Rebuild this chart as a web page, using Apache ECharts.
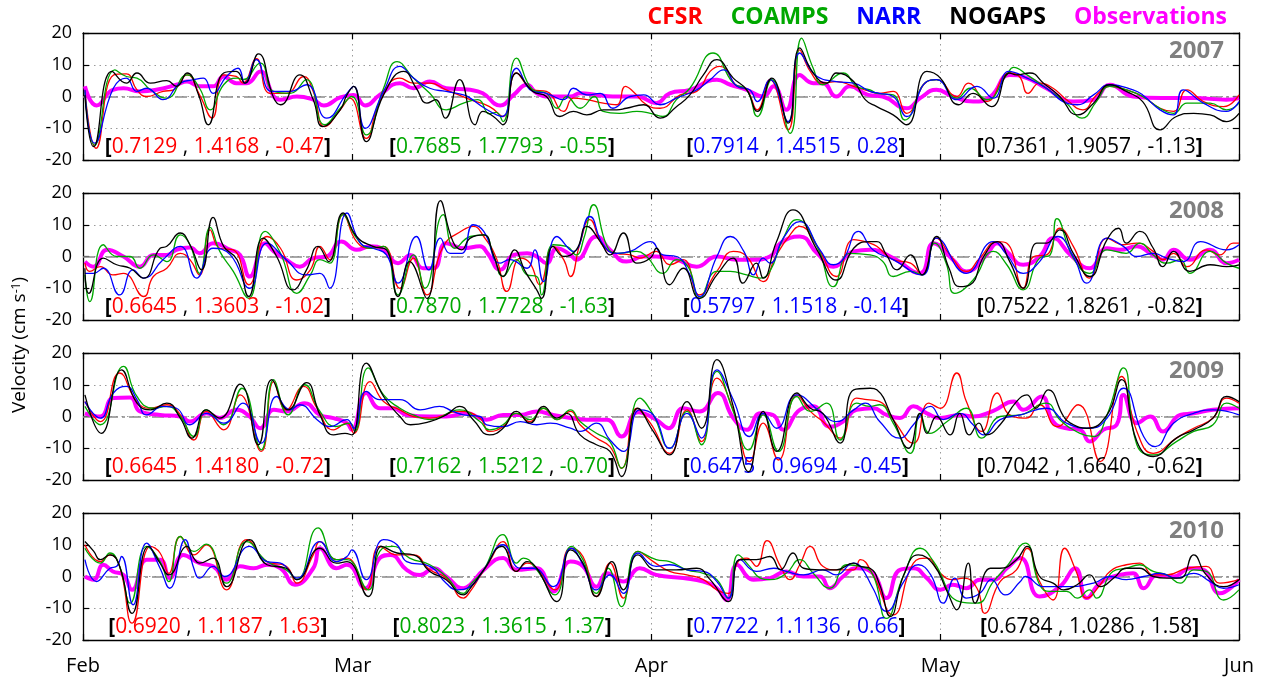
<!DOCTYPE html>
<html>
<head>
<meta charset="utf-8">
<script src="https://cdn.jsdelivr.net/npm/echarts@6/dist/echarts.min.js"></script>
<style>
  html, body { margin: 0; padding: 0; background: #fff; }
  #chart { width: 1266px; height: 682px; }
</style>
</head>
<body>
<div id="chart"></div>
<script>
// x values are days counted from 1 February; y values are velocities in cm/s
const monthTicks = [0, 28, 59, 89, 120];
const monthNames = ['Feb', 'Mar', 'Apr', 'May', 'Jun'];
const years = ['2007', '2008', '2009', '2010'];
const modelNames = ['CFSR', 'COAMPS', 'NARR', 'NOGAPS'];
const obsName = 'Observations';

// ---- 2007 ----
const obs2007 = [[0.2,3.2],[1.4,-2.8],[3.1,2.1],[4.2,2.6],[5.9,1.6],[7.6,2.1],[9.7,3.7],[10.8,4.7],[12.1,3.2],[13.5,3.2],[14.6,6.3],[15.9,4.2],[17,4.2],[18.4,7.9],[19.8,0],[20.5,-1],[22.2,0],[23.9,-1],[25,-2.8],[26.7,-0.3],[28.1,0.5],[29.3,-2.8],[30.8,0.5],[32.9,4.2],[34.3,2.6],[36,4.7],[37.7,2.6],[40.2,2.1],[41.5,1.0],[43.3,-2.8],[44.7,0.5],[46.1,3.7],[47.1,1.0],[48.5,0],[50.6,0],[51.6,1],[53.3,0.5],[55,0],[57.5,0],[59.5,-2.1],[60.9,1],[63,2.1],[65.8,5.3],[67.2,3.7],[68.9,2.1],[70.6,0],[71.7,3.2],[73,-4.2],[74.4,6.8],[75.8,4.2],[76.8,4.2],[78.2,0],[79.6,3.2],[81.5,0.5],[83,0],[85.5,-3.7],[86.9,-0.5],[88.6,2.1],[90.3,0],[92.4,-1.6],[94.2,0],[96.2,6.8],[98,5.8],[100,2.6],[102.8,-1.6],[104.9,-1],[106.6,3.7],[109,0],[112,-0.5],[115.3,-0.5],[118.7,-1],[120,-0.5]];
const cfsr2007 = [[0.2,2],[1.35,-16.3],[3.2,6.8],[4.5,7.1],[5.6,2.1],[6.6,0],[8.3,1.6],[9.4,2.1],[10.8,6.8],[12.1,0.5],[13.4,-6.8],[14.6,6.8],[15.9,6.3],[16.6,4.2],[18,11.9],[19.4,1],[21.1,1],[22.9,6.3],[23.9,1.6],[25.1,-9.5],[26.7,-4.2],[27.7,-0.5],[29.4,-13.2],[30.8,-1.6],[32.9,5.8],[34.3,4.2],[36,4.2],[37.7,2.1],[40.2,-1],[42.2,-3.2],[43.6,-6.3],[45,7.4],[46.7,2.1],[48.1,1.6],[49.9,-4.7],[50.9,-0.5],[52.3,-1],[54,-2.1],[55.4,-2.6],[56.3,3.2],[57.1,1.6],[58.5,-2.6],[59.9,-3.7],[62,0.5],[63.7,1.6],[65.1,7.9],[66.1,9.5],[67.9,3.2],[68.9,2.1],[70,-4.2],[71.3,5.3],[73.2,-10.5],[74.4,14.7],[75.5,7.9],[76.8,4.2],[78.2,4.7],[80,3.2],[81.7,1.6],[82.7,1.0],[84.1,1.6],[85.5,-5.3],[87.6,4.7],[88.6,5.3],[90.7,0],[91.9,4.2],[93.8,-1.6],[96.2,7.4],[97.2,6.3],[98.1,1],[99.3,4.2],[100.7,2.6],[102.1,-1],[103.8,-4.2],[105.2,0.5],[106.6,3.2],[108.3,2.1],[110,0],[111.8,-3.7],[113.2,-4.7],[114.6,2.1],[116.3,-1.6],[118.4,-3.2],[120,0.5]];
const coamps2007 = [[0.2,1.6],[1.2,-15.3],[3.3,8.4],[4.5,6.3],[5.6,5.8],[7,2.1],[8.7,-0.5],[10.8,6.8],[12.1,2.6],[13.2,-4.2],[14.6,3.7],[16,5.8],[16.6,5.3],[18.4,10.5],[19.8,1.6],[21.5,1],[23.2,5.3],[25.1,-8.9],[26.7,-3.7],[27.9,0],[29.4,-12.1],[31.2,2.6],[32.6,11],[34.3,5.8],[36,1],[37.7,-4.2],[39.5,-2.1],[41,-1],[42.2,-5.5],[42.9,-5],[43.6,-7.9],[45,12.1],[46.7,2.1],[48.1,1],[49.2,-3.7],[50.2,0],[51.6,-3.7],[53.1,0],[54,-4.7],[55.7,-5.3],[57.5,-4.7],[58.9,-5.3],[60.2,-6.3],[61.6,-1],[63,2.6],[65.4,13.7],[67.5,4.2],[68.9,2.1],[70,-6.3],[71.5,5.3],[73.4,-11.6],[74.6,18.4],[75.8,8.9],[76.8,3.7],[78.9,7.4],[80.3,3.2],[81.7,2.1],[82.4,1],[84.1,0.5],[85.3,-7.4],[87.6,4.7],[88.6,5.3],[90.7,-0.5],[92.1,2.6],[93.8,-1],[95.9,6.8],[96.6,9.2],[98,6.8],[100,2.6],[102.1,-2.1],[103.7,-6.8],[105.2,-1.6],[106.6,3.2],[108.3,2.1],[110,0],[111.8,-3.7],[113.2,-5.3],[114.6,-2.1],[117,-2.1],[118.7,-4.2],[120,-2.1]];
const narr2007 = [[0.2,2.1],[1.2,-14.7],[3.15,2.6],[4.5,5.8],[5.6,1.6],[6.6,2.6],[8.3,-1],[10.1,4.2],[11.5,5.3],[12.5,5.8],[13.5,1],[14.9,6.3],[16.1,8.9],[16.8,4.2],[18,11.6],[19.6,1.6],[21.5,1.6],[23.2,3.7],[25.3,-6.8],[27.4,1],[28.1,3.2],[29.3,-10],[31.2,1.6],[32.9,9.5],[34.3,5.8],[36,2.6],[37.7,1.6],[39.5,0.5],[40.2,-0.5],[41.7,-3.7],[43.5,-6.3],[45,8.9],[46.7,1.6],[48.1,1],[49.9,-1],[50.9,2.6],[52.3,0.5],[53.7,1],[55,-3.7],[56.8,0],[58.2,0.5],[59.9,-2.6],[61.6,-0.5],[63.7,2.1],[65.1,5.3],[66.5,8.4],[67.9,3.2],[69.2,2.1],[70,-1.6],[71.3,5.3],[73.2,-7.9],[74.4,13.7],[76.2,6.3],[78.2,4.7],[80,4.2],[81.7,1.6],[82.7,1],[84.1,0],[85.5,-6.3],[87.6,4.7],[88.6,5.3],[90.7,-1],[92.8,3.2],[94.5,-0.5],[96.1,7.9],[98,5.8],[100,2.6],[102.1,-2.1],[103.2,-2.6],[104.9,0.5],[106.6,3.7],[109,2.1],[110,0.5],[111.8,-4.2],[113.2,-5.8],[114.2,2.1],[116.3,-2.1],[118.7,-4.7],[120,-1.6]];
const nogaps2007 = [[0.2,0.5],[1.1,-15.8],[3,7.9],[4.5,4.2],[5.6,7.4],[7,4.2],[8.7,5],[9.7,3.2],[10.8,7.4],[12,0.5],[13,-8.9],[14.6,7.4],[15.9,7.9],[16.8,4.2],[18.2,13.4],[19.8,-0.5],[20.5,-2.6],[22.5,6.8],[23.9,-1],[24.9,-9.5],[26.7,-4.2],[27.4,0.5],[28.1,3.2],[29.4,-14.2],[31.2,0.5],[33.3,7.9],[34.6,2.6],[35.7,-2.1],[36.6,-1],[37.6,-6.8],[39.1,5.3],[40.7,-8.9],[41.5,-4.7],[42.6,-6.3],[43.6,-8.9],[45,7.4],[46.7,1.6],[48.1,0],[49.5,-6.3],[50.9,-4.7],[52.3,-5.8],[54,-4.2],[55.4,-4.2],[56.4,-3.7],[58.2,-2.6],[59.9,-6.8],[61.6,-3.2],[63,0.5],[64.4,6.8],[65.8,11.6],[67.5,5.8],[68.9,2.1],[70,-4.7],[71.5,5.8],[73.2,-8.4],[74.4,15.3],[75.8,7.4],[77.2,4.2],[78.2,7.4],[80,4.7],[81.2,-1],[82.4,-3.2],[84.1,-5.8],[85.5,-8.9],[87.6,7.9],[89,5.8],[90.9,-2.6],[92.4,1],[94.3,-3.2],[96.2,7.4],[96.9,6.8],[98.3,7.4],[99.7,4.2],[101.4,0],[103.2,-5.8],[104.9,-2.1],[106.6,3.7],[108.3,1.6],[110,-1.6],[111.8,-10.5],[113.5,-6.3],[115.3,-5.3],[117,-5.8],[118.7,-7.9],[120,-5.3]];
const stats2007 = [['0.7129','1.4168','-0.47'],['0.7685','1.7793','-0.55'],['0.7914','1.4515','0.28'],['0.7361','1.9057','-1.13']];

// ---- 2008 ----
const obs2008 = [[0.2,-1.6],[1.1,-3.2],[2.5,2.1],[4.2,0],[5.9,-3.2],[7.3,0.5],[8.7,0.5],[9.7,2.1],[11.1,2.8],[12.1,1],[13.5,4.2],[15.3,2.1],[16.3,0.5],[17.3,-6.3],[18.9,4.2],[19.8,1.6],[21.1,-1],[22.5,-3.2],[23.9,-0.5],[25.3,0],[26.8,4.7],[28.4,2.1],[29.8,3.2],[31.2,2.1],[32.7,-2.1],[34,0.5],[35.3,-3.7],[36.4,-3.7],[37.7,4.2],[39.5,2.6],[41.2,3.2],[42,1],[43.3,-4.2],[44.7,0.5],[46.1,1],[47.1,0],[48.1,-2.1],[49.2,2.6],[50.6,0.5],[51.2,-1],[53.3,6.3],[54.7,2.1],[56.4,-1.6],[58.2,0],[59.5,0],[61.6,-1],[63.7,-3.2],[65.8,0],[67.9,-1],[69.6,-1],[71.3,0],[72.4,4.2],[74.4,6.3],[76.2,1],[77.9,-3.2],[80,1.6],[81.7,2.1],[84.1,-0.5],[86.9,-5.3],[88.3,4.2],[90.3,-1],[91.7,-4.7],[93.8,0.5],[94.9,4.2],[95.9,1.6],[97.6,-2.6],[99.3,0],[100.7,5.8],[102.5,0.5],[104.5,-3.7],[106.3,2.6],[107.6,2.1],[109.4,3.2],[110.8,1],[112.1,-1],[113.2,2.1],[114.9,-1],[117,2.1],[118.7,-2.1],[120,-1]];
const cfsr2008 = [[0.2,-2.1],[0.7,-4.7],[1.8,-3.2],[3.1,-5.8],[4.2,-5.3],[6.3,-12.6],[7.3,-6.3],[8.7,-3.7],[10.1,1],[11.1,-1],[12.1,-5.8],[13.2,8.4],[14.2,2.6],[15.6,2.1],[17.2,-8.9],[19.1,6.3],[20.5,2.6],[22.2,-7.4],[23.6,-4.2],[24.6,3.2],[25.6,-1],[27,13.2],[28.4,4.7],[29.8,2.6],[31.2,3.2],[32.9,-10],[34.3,-0.5],[35.7,-12.1],[37.4,3.2],[39.5,8.4],[40.5,9.5],[41.6,6.3],[42.9,-0.5],[44,-11],[45.4,-0.5],[46.4,-2.1],[47.4,-8.9],[48.8,3.2],[49.9,-1],[50.6,-6.3],[51.6,4.2],[52.6,11.6],[54,3.2],[55.4,1],[56.8,0.5],[57.8,-0.5],[59.5,1.6],[60.9,-2.6],[62.3,-1],[64,-12.1],[65.8,-4.7],[67.5,1.6],[68.9,0],[70.6,-7.9],[71.9,0],[73.4,6.8],[74.4,9.5],[76.2,3.2],[78.2,-6.3],[80,5.3],[81.7,4.2],[82.4,3.2],[84.1,-1],[85.9,-2.1],[87.1,-5.8],[88.6,5.8],[90,0.5],[91.7,-4.7],[93.1,-0.5],[94.9,4.7],[95.9,4.2],[97.6,-10],[98.7,0],[100,0.5],[101.4,8.9],[102.8,3.2],[104.5,-6.8],[106.3,5.8],[108,3.7],[109.4,4.2],[111.1,1.6],[112.1,-1],[113.2,1],[114.6,-3.2],[116.6,2.1],[118,0.5],[119.4,4.2],[120,4.2]];
const coamps2008 = [[0.2,-5.8],[0.7,-14.2],[2.1,3.7],[3.5,0],[4.9,0],[5.9,-3.7],[7.3,0.5],[8.7,-1.6],[10.1,6.8],[11.1,3.7],[12.1,-5.3],[13.2,9.2],[14.2,1.6],[15.6,-4.7],[17.2,-13.2],[18.9,7.9],[20.5,1],[22.2,-11.6],[23.6,-5.8],[24.6,-1],[25.6,-2.1],[27,13.2],[28.4,5.8],[29.8,2.6],[31.2,3.2],[32.7,-12.1],[34.3,0.5],[35.5,-10],[37.4,13.2],[38.6,2.6],[40.2,6.3],[41.6,6.8],[42.6,0.5],[43.6,-6.3],[45,-1],[46.1,-5.8],[47.1,-6.3],[47.6,-12.1],[48.8,3.7],[50.2,3.2],[51.2,0.5],[52,5.8],[53,16.3],[54.4,3.2],[55.4,1],[57.5,1.6],[58.5,0],[60.2,-5.3],[61.6,-1],[62.9,-3.7],[64,-13.2],[65.8,-4.7],[67.2,-4.7],[68.9,-5.8],[70.3,-6.8],[71.3,-4.7],[72.7,5.8],[74.1,11.6],[76.2,3.2],[77.9,-9.5],[79.6,1],[81.7,0.5],[83,-1.5],[84.1,-6.3],[85.9,-4.7],[87.1,-5.8],[88.4,4.2],[89.6,-2.1],[90.5,-11.6],[92.4,-7.4],[94.5,1.6],[95.9,-2.6],[97.6,-10.5],[99.3,-0.5],[100.4,0.5],[101.1,11.9],[102.8,-0.5],[104.5,-5.3],[106.3,2.1],[108.3,1],[109.7,4.2],[111.1,0.5],[112.5,-2.1],[113.9,-1],[114.9,-5.3],[117,1.6],[118.7,-2.1],[120,-3.7]];
const narr2008 = [[0.2,-5.3],[1.1,-5.3],[2.1,-3.7],[3.8,-12.1],[5.2,-4.2],[6.3,-6.8],[8.3,-1],[10.1,3.2],[11.8,-6.8],[13.5,2.6],[15.3,0.5],[17.3,-10],[19.1,4.2],[21.1,-1],[23.2,-5.8],[24.6,-5.3],[25.6,-10],[27.4,13.7],[28.8,4.2],[30.1,2.6],[31.5,0.5],[32.7,-8.4],[34.6,6.3],[35.9,-4.2],[37.1,5.8],[38.1,1],[39.3,1],[40.5,10],[41.6,7.9],[43.3,-2.1],[44.3,-1],[46.1,-3.7],[46.9,2.1],[47.8,-7.9],[49.2,6.3],[50.9,1.6],[52.6,12.6],[54,3.7],[55.4,1],[56.8,1.6],[58.9,4.7],[60.2,0.5],[61.6,0],[63,-5.8],[64,-12.6],[65.8,0],[67.2,6.3],[68.6,1.6],[69.6,-5.8],[70.6,-0.5],[71.3,-2.1],[72.7,5.8],[74.4,11],[76.5,2.1],[77.9,-2.6],[78.9,-1],[80.5,7.9],[82,2.1],[84.1,-1],[87.1,-5.8],[88.6,5.8],[91.7,-5.3],[94.5,4.7],[95.9,0.5],[97.6,-5.3],[99.3,-1.6],[101.2,6.3],[102.8,0],[104.2,-8.4],[106.3,5.8],[108,3.2],[109.4,0],[111.1,1],[112.5,-0.5],[114.2,-1.6],[116,4.7],[118.7,2.1],[120,3.7]];
const nogaps2008 = [[0.2,-3.7],[0.6,-11.6],[2.1,-0.5],[3.5,-2.6],[4.9,-3.7],[6.3,-6.8],[8,2.6],[8.7,3.2],[10.1,7.4],[11.1,3.7],[12.3,-4.2],[13.5,12.3],[14.6,3.2],[16,-1],[17.2,-12.6],[18.7,5.8],[20.1,0],[21.8,-10.5],[23.2,-4.2],[24.4,3.2],[25.5,-1.6],[27,13.7],[28.4,6.3],[30.1,3.2],[31.5,2.1],[32.7,-12.6],[33.9,-1.6],[35.7,-13.2],[37.1,17.6],[38.4,4.7],[39.3,2.1],[40.2,5.8],[41.6,6.8],[42.6,0.5],[43.6,-6.3],[44.8,2.1],[45.9,-4.7],[47.1,-10.5],[47.6,-13.2],[48.8,3.2],[49.9,0],[51.2,2.1],[52.3,9.5],[53.7,4.7],[54.7,0.5],[56.1,7.4],[57.5,-2.1],[58.9,-0.5],[59.5,2.6],[60.9,-8.9],[62.3,-3.7],[64,-13.2],[65.8,-5.8],[67.5,-0.5],[68.5,-8.4],[69.9,-2.1],[70.6,-6.8],[72,4.7],[73.7,14.7],[76.2,2.1],[78.2,-7.4],[80,2.6],[81.7,4.7],[82.4,4.7],[83.4,0.5],[84.5,-4.2],[85.9,0.5],[87.1,-5.8],[88.6,6.3],[89.9,-3.7],[91,-9.5],[92.1,-8.9],[93.5,0],[94.9,4.7],[96.2,-1.6],[97.6,-10],[99,4.2],[100,4.2],[101.4,8.4],[102.8,1],[104.5,-6.3],[106.3,5.3],[107.5,8.9],[108.3,4.2],[109.7,7.9],[111.1,2.6],[112.1,-3.2],[113.2,1.6],[114.9,-4.7],[117,-2.6],[118.7,-3.2],[120,-2.6]];
const stats2008 = [['0.6645','1.3603','-1.02'],['0.7870','1.7728','-1.63'],['0.5797','1.1518','-0.14'],['0.7522','1.8261','-0.82']];

// ---- 2009 ----
const obs2009 = [[0.2,1],[1.8,0],[3.15,5.8],[4.9,6],[5.9,1.6],[8,0.5],[10.1,0],[11.1,-1.6],[12.8,1],[14.2,-0.5],[15.9,2.1],[17.3,0],[18.4,-3.7],[19.8,2.1],[21.1,1.6],[23,4.2],[24.6,0.5],[26,-0.5],[27.4,-2.1],[27.9,-4.2],[29.4,7.4],[30.8,2.6],[32.2,2.6],[33.6,0.5],[36,0],[37.7,0],[39.8,1],[41.2,-0.5],[41.9,-1],[43.6,0.5],[45.4,0.5],[47.1,1.6],[48.8,0.5],[50.6,-0.5],[52.3,-1],[54.4,-1],[55.9,-6.3],[57.6,1.3],[59.5,-1],[60.8,-3.7],[62.3,2.6],[64,1.6],[65.9,7.4],[67.5,-0.5],[68.9,-4.2],[70.3,1],[71.6,0.5],[72.7,-4.2],[74.4,2.1],[75.8,3.2],[77.5,-3.2],[78.9,-1.6],[80.3,2.1],[82,2.6],[83.4,0.5],[84.8,-0.5],[86.2,3.2],[87.6,1],[89,-0.5],[91,0.5],[92.4,0],[94.5,1.8],[96.6,4.7],[97.6,2.1],[99.5,6.3],[100.7,-1.6],[102.1,-3.7],[103.5,-4.2],[104.5,-7.9],[105.9,-4.2],[107.3,-2.6],[108,6.8],[109.4,-2.1],[110.8,0],[112.1,-4.7],[113.9,0.5],[115.3,1],[117.3,2.1],[120,2.6]];
const cfsr2009 = [[0.2,4.7],[1.8,-1.6],[3.8,13.7],[5.6,4.7],[7,2.6],[8.7,3.7],[10.1,0.5],[11.5,-7.4],[12.8,1.6],[14.6,-4.2],[16.3,6.8],[18.5,-11],[19.8,11],[21.1,2.1],[22.9,9.5],[24.3,2.6],[26,-4.2],[27.4,-2.1],[28.1,-5.3],[29.8,11],[31.2,4.7],[32.9,2.1],[34.3,0],[36,-0.5],[39.1,1.6],[41.2,-0.5],[42.2,-4.7],[43.6,-3.2],[45,1],[46.4,-1.6],[47.8,2.6],[49.2,-1],[50.6,1.6],[51.6,-2.6],[53.3,-6.8],[54.7,-9.5],[55.9,-16.3],[57.5,2.6],[58.9,-2.1],[60.9,-11.6],[62.7,2.1],[64.2,-7.9],[65.8,12.1],[67.5,2.1],[69.2,-14.2],[70.6,-2.1],[72.2,-13.7],[74.1,6.8],[75.5,1.6],[76.8,-1.6],[78.6,-6.8],[80.3,5.8],[81.4,5.3],[82.7,4.7],[84.1,-1],[86.2,-8.4],[87.8,4.2],[89,2.6],[90.7,13.7],[91.7,4.7],[93.3,-4.7],[94.9,7.4],[96.2,0.5],[97.9,-0.5],[99.3,3.7],[101.1,-3.2],[103.3,3.7],[105.6,-14.2],[107.8,12.6],[109.4,-4.7],[111.1,-11.6],[113.5,-6.8],[115.3,-3.7],[117.3,-0.5],[118.7,5.8],[120,4.2]];
const coamps2009 = [[0.2,3.2],[1.8,-2.6],[4.2,15.8],[5.6,6.3],[7.3,2.6],[8.7,3.2],[10.1,0],[11.5,-6.3],[12.8,2.1],[14.6,-2.6],[16.5,8.9],[18.5,-10.5],[19.8,11.6],[21.3,0.5],[23,10],[24.6,1.6],[26.2,-3.2],[27.7,-2.1],[28.2,-4.7],[29.6,15.3],[31.2,6.8],[32.9,2.6],[34.3,0.5],[36,-1],[39.1,2.1],[41.2,-1.6],[42.2,-4.2],[43.6,-2.6],[45,1],[46.4,-1],[47.8,2.6],[49.2,-1],[50.6,2.1],[51.6,-1.6],[53.3,-5.3],[54.7,-7.9],[55.9,-16.3],[57.8,5.8],[59.2,0.5],[60.9,-10],[62.7,1.6],[64.2,-8.9],[65.8,14.2],[67.5,1.6],[69.1,-10.5],[70.6,0.5],[72.2,-11],[74.1,6.3],[75.5,1.6],[77.2,4.2],[78.6,-7.4],[80.3,4.2],[81.7,3.2],[82.7,3.7],[84.1,-2.1],[85.9,-11.6],[86.9,1],[87.9,-5.3],[89.7,-1.6],[91.7,2.6],[93.3,-6.8],[95.2,0],[97.3,0.5],[100,4.2],[101.4,-1],[103.5,-5.3],[104.9,-6.3],[106.3,0.5],[108,15.3],[109.4,-8.9],[111.1,-12.1],[113.5,-7.9],[115.3,-4.7],[117.3,-2.6],[118.7,4.2],[120,2.6]];
const narr2009 = [[0.2,4.7],[1.8,-0.5],[3.15,7.4],[4.5,9.5],[5.6,5.3],[6.6,0.5],[8.3,3.2],[9.7,2.6],[11.1,-2.6],[12.8,1],[14.6,-2.1],[16.6,4.2],[18.5,-8.4],[20.1,6.3],[21.5,2.1],[22.5,3.7],[24.3,-1],[25.6,-3.2],[27.4,-1],[28.1,-3.7],[29.4,7.9],[30.8,5.3],[32.9,5.3],[35,2.1],[37,3.2],[38.4,1.6],[39.5,0.5],[41.2,0],[41.9,-2.6],[43.6,-3.2],[45.4,-1.6],[47.1,-2.6],[48.5,-2.1],[50.6,-3.7],[51.6,-4.7],[53.3,-2.1],[54.7,-7.4],[56.1,-11],[57.8,2.1],[59.2,0.5],[60.9,-10],[62.7,1],[64.2,-6.8],[65.8,14.7],[67.5,5.3],[69.2,-6.3],[70.6,1],[72,-3.7],[74.1,6.8],[76.5,1.6],[78.2,-1.6],[80,2.1],[81.2,4.2],[82.7,-1.6],[84.8,-6.8],[86.2,-2.6],[88,3.2],[89.3,-1],[91,1],[92.4,-2.6],[93.5,-5.8],[95.2,-1],[97.3,0.5],[100,2.6],[102.1,-2.1],[104.5,-3.7],[106.3,-0.5],[108,8.9],[110.1,-6.3],[111.3,-9.5],[113.2,-2.1],[115.3,1],[117.3,2.1],[120,0.5]];
const nogaps2009 = [[0.2,6.8],[1.9,-5.3],[4,14.7],[5.6,4.2],[7,2.1],[8.7,4.2],[10.1,-0.5],[11.3,-6.8],[12.8,2.1],[14.2,-0.5],[16.3,10.2],[18.2,-8.9],[19.6,11.6],[21.3,2.1],[23.2,10.7],[24.6,0.5],[26,-5.8],[27.2,-5.3],[27.9,-5.8],[29.4,16.8],[31.2,6.3],[32.9,0],[34,-2.6],[36,-1.6],[37.7,0.5],[39.1,3.2],[40.5,-1],[42.2,-5.8],[43.6,-3.7],[45,1.6],[46.4,-2.1],[47.8,3.2],[49.2,-0.5],[50.2,1],[51.6,-5.8],[53.3,-8.9],[54.7,-11],[55.9,-18.9],[57.6,2.6],[59.2,-4.7],[60.9,-12.1],[62.7,4.7],[64.2,-3.7],[65.8,17.9],[67.5,3.2],[69.1,-17.4],[70.6,1.6],[72,-11],[74.1,7.4],[75.5,2.6],[76.8,1],[78.6,-8.4],[80,8.4],[81.7,8.9],[82.4,8.4],[84.1,-1],[85.7,-10],[86.9,1],[87.6,-5.3],[88.6,0],[90,-5.8],[91,1],[92,-5.8],[93,-2.1],[93.8,-5.8],[95.2,-2.6],[96.9,4.7],[98,6.8],[98.9,2.6],[100.2,8.4],[101.8,0],[102.5,-2.1],[104.2,-3.7],[106.3,0.5],[107.8,11.6],[109.4,-7.9],[111.1,-12.6],[113.5,-6.8],[115.3,-4.2],[117.3,-0.5],[118.7,6.3],[120,4.7]];
const stats2009 = [['0.6645','1.4180','-0.72'],['0.7162','1.5212','-0.70'],['0.6475','0.9694','-0.45'],['0.7042','1.6640','-0.62']];

// ---- 2010 ----
const obs2010 = [[0.2,0],[1.1,-1],[2.1,3.7],[3.1,1.6],[4.2,0.5],[5.1,-4.2],[6.6,5.3],[8,5.3],[9,-0.5],[10.4,6.8],[12.1,4.2],[13.5,3.2],[14.9,-1],[16.3,3.2],[17.7,2.6],[19.1,3.7],[20.5,2.6],[22,-2.6],[23.9,2.6],[24.6,8.9],[26.3,2.6],[27.4,3.7],[29.3,-3.7],[30.8,5.8],[31.9,6.8],[33.6,2.1],[35,0.5],[36.4,2.6],[37.7,0],[39.5,-3.7],[40.2,-2.6],[41.6,2.1],[43.6,5.8],[45,2.1],[47.1,2.6],[48.8,-4.7],[50.6,4.7],[51.9,3.2],[53.3,-3.2],[54.4,1],[56.1,-1.6],[57.8,2.6],[59.5,0.5],[62.3,-0.5],[64.4,-1.6],[65.8,-3.7],[66.8,-7.4],[67.9,3.7],[69.6,-1],[71.3,-0.5],[73,1.6],[74.8,0],[76.5,0],[77.5,-3.7],[78.9,0],[80.3,2.6],[82,1],[83.4,-6.8],[84.8,2.1],[86.2,2.6],[87.6,-0.5],[89,-4.2],[90.3,-2.6],[91.7,-3.7],[93.1,-1],[94.5,-1],[95.9,2.6],[97.3,5.8],[99.3,-6.3],[101.4,-3.2],[103,2.6],[104.2,-6.8],[105.6,-2.1],[107.6,0.5],[109,1],[110.1,-3.7],[111.5,0.5],[113.2,0],[114.9,2.6],[116.3,2.1],[118,-5.3],[120,-1]];
const cfsr2010 = [[0.2,10],[1.8,4.7],[2.8,6.8],[3.8,3.2],[5.1,-14.7],[7,9.5],[8,7.4],[8.9,1],[10.1,12.6],[11.5,6.8],[12.8,10],[14.9,-4.2],[17,11.6],[19.1,4.7],[21.1,3.2],[22.2,-2.1],[23.9,6.8],[24.6,11],[26.3,5.3],[27.4,5.8],[29.4,-4.2],[30.8,9.5],[32.6,6.8],[34.3,6.8],[36,2.1],[37.7,-0.5],[39.5,-6.8],[40.2,-4.7],[41.2,0],[42.2,4.7],[43.6,11],[45,1.6],[46.1,4.2],[47.1,2.6],[49,-4.2],[50.6,8.9],[51.9,6.3],[53.3,-6.3],[54.7,4.2],[56.1,-6.8],[57.6,7.9],[59.2,4.7],[60.9,1.6],[62.7,0.5],[64.4,-1],[65.8,-4.2],[67,-5.3],[67.9,4.2],[68.9,5.8],[69.9,3.2],[71,11.3],[72.4,3.2],[73.4,-1],[74.4,3.7],[75.5,9.5],[76.8,3.2],[78.2,2.1],[80,2.1],[80.7,5.3],[82,0.5],[84.1,-12.1],[86.2,4.2],[87.6,5.8],[89,1],[90.3,-1],[91.4,-0.5],[92.8,-3.7],[93.6,-11.6],[95.2,-1.6],[96.9,2.1],[98,8.9],[99.3,-1.6],[100.7,-7.4],[101.9,8.9],[103.1,1.6],[104.2,-6.8],[105.6,-2.6],[106.6,1.6],[108.3,3.7],[109.7,4.2],[111.1,0.5],[112.5,0.5],[114.6,2.6],[116.6,3.2],[118,-2.1],[120,-1]];
const coamps2010 = [[0.2,8.9],[1.8,4.2],[2.8,7.4],[3.8,3.2],[4.9,-8.4],[6.6,9.5],[8,4.7],[8.9,-1.6],[10.1,12.6],[11.5,7.9],[12.8,10.2],[14.9,-2.1],[17,11],[19.1,4.7],[21.1,2.1],[22.2,-1],[24.4,15.3],[26.3,5.3],[27.4,5.3],[29.6,-4.2],[30.8,7.9],[32.2,9.5],[33.9,5.8],[36,3.7],[37.7,0],[39.5,-5.3],[40.2,-2.6],[41.6,2.1],[43.6,13.2],[45,4.2],[45.7,5.8],[47.1,2.1],[49,-5.8],[50.7,9.5],[51.9,5.3],[53.3,-5.3],[54.5,2.6],[55.9,-9.5],[57.6,7.9],[59.5,5.3],[60.9,4.7],[62.7,2.1],[64.4,1],[65.8,-1],[67,-6.8],[68,6.8],[69.2,3.2],[70.3,-0.5],[71.3,-1],[73,1],[74.4,5.3],[75.8,1],[77.5,-3.7],[79.3,3.7],[80.7,3.2],[82,0.5],[83.4,-13.2],[85.2,0.5],[86.9,8.9],[88.3,4.7],[91,-7.9],[92.8,-8.4],[94.5,-1.6],[95.9,3.2],[97.8,10.5],[99.3,-2.6],[100.4,-4.7],[102.1,-4.7],[103.2,-6.8],[104.5,-4.2],[105.2,-6.8],[106.9,1.6],[108.3,2.6],[109.7,3.7],[111.1,1.6],[112.5,0.5],[113.9,-2.1],[115.3,2.1],[116.6,1.6],[118.4,-7.4],[120,-4.2]];
const narr2010 = [[0.2,5.3],[1.4,-1.6],[2.8,2.6],[3.5,3.2],[4,6.3],[5.2,-8.9],[6.6,10.5],[8,2.6],[9,-3.7],[10.6,11.6],[11.5,2.6],[12.1,-0.5],[13.5,3.2],[14.7,0],[17.3,9.5],[19.1,4.7],[20.5,4.2],[22.2,-0.5],[24.6,11],[26.3,4.7],[27.4,6.3],[27.9,8.4],[29.4,-1],[31.2,11.6],[32.6,10],[33.6,4.7],[36,3.2],[37.7,-2.1],[38.8,-4.2],[40.2,-3.2],[41.6,2.1],[43.6,10],[45.4,2.6],[46.8,2.6],[48.8,-3.2],[50.7,8.9],[51.9,3.7],[53.3,-4.2],[54.7,0.5],[56.1,-5.3],[57.6,7.4],[59.5,3.2],[60.9,3.7],[62.7,2.1],[64.4,1.6],[65.8,-1.6],[67,-6.8],[68.2,5.3],[69.9,1.6],[71.7,2.6],[73,1.6],[74.8,0.5],[76.8,2.1],[78.2,0.5],[80,4.2],[80.7,3.2],[82,-3.7],[83.4,-11],[85.2,-1.6],[86.7,3.7],[88,0.5],[89.3,-8.4],[90.5,-0.5],[91.7,-6.8],[93.1,-5.3],[94.3,-1],[95.7,-5.8],[97.3,-1.6],[97.8,0],[99.7,-3.2],[102.1,-3.2],[104.9,-2.1],[106.6,0],[108.3,-1],[110.1,0],[111.8,1],[113.5,-0.5],[115.3,1],[117,-1.6],[118.4,-3.7],[120,-2.6]];
const nogaps2010 = [[0.2,11],[1.1,8],[1.8,5.3],[2.8,6.8],[3.8,3.2],[5.1,-11.6],[6.8,9.5],[8,4.2],[8.9,0.5],[10.8,9.5],[11.5,5.8],[12.1,4.2],[13.5,5.8],[14.9,-3.2],[17.3,11.6],[19.1,3.7],[21.1,2.6],[22.2,-1],[24.6,8.9],[26.3,4.2],[27.4,4.7],[29.6,-6.3],[31,9.5],[32.6,7.4],[34.3,6.8],[36,1.6],[37.7,-1],[39.5,-5.8],[40.2,-3.7],[41.6,2.1],[43.5,9.5],[45,1.6],[46.1,4.7],[47.1,2.6],[49.2,-7.9],[50.6,8.4],[51.9,4.2],[53.3,-6.3],[54.9,4.7],[56.1,-4.2],[57.6,6.8],[59.5,2.1],[61.6,2.1],[63.7,2.6],[65.1,-1],[67,-7.9],[68.2,5.3],[69.9,5.3],[71.3,6.3],[72.4,2.1],[73.7,7.4],[74.8,2.6],[76.5,2.1],[78.2,2.1],[80,4.2],[80.7,3.2],[81.7,2.6],[82.7,-2.6],[83.8,-12.6],[85.2,0.5],[86.7,6.8],[88.3,3.7],[89.7,-4.7],[90.7,-10.5],[91.9,4.2],[92.6,-8.4],[94.2,2.6],[95.2,2.6],[96.9,5.3],[98,9.5],[99.3,0],[100.7,-2.1],[101.8,-4.2],[103.2,-2.6],[104.5,0.5],[105.6,-3.2],[107,-0.5],[108.3,2.6],[109.7,2.6],[111.1,0],[112.5,-0.5],[113.9,-0.5],[115.3,6.8],[116.6,0.5],[118.4,-3.2],[120,-1]];
const stats2010 = [['0.6920','1.1187','1.63'],['0.8023','1.3615','1.37'],['0.7722','1.1136','0.66'],['0.6784','1.0286','1.58']];

// ---- assembly ----
const obsByYear = [obs2007, obs2008, obs2009, obs2010];
const modelsByYear = [
  [cfsr2007, coamps2007, narr2007, nogaps2007],
  [cfsr2008, coamps2008, narr2008, nogaps2008],
  [cfsr2009, coamps2009, narr2009, nogaps2009],
  [cfsr2010, coamps2010, narr2010, nogaps2010]
];
const statsByYear = [stats2007, stats2008, stats2009, stats2010];

const modelColors = ['#ff0000', '#00a800', '#0000ff', '#000000'];
const obsColor = '#ff00ff';
const FONT = '"Open Sans", "Liberation Sans", sans-serif';

const gridTops = [33, 193, 353, 513];
const gridH = 127;

// stat labels sit at the middle of each month
const monthMids = monthTicks.slice(0, 4).map((t, k) => (t + monthTicks[k + 1]) / 2);

const grids = [], xAxes = [], yAxes = [], series = [];

gridTops.forEach((top, i) => {
  grids.push({ left: 83, right: 27, top: top, height: gridH, containLabel: false });

  const tickStyle = { color: '#000', width: 1.2 };
  xAxes.push({
    gridIndex: i, type: 'value', min: 0, max: 120, position: 'bottom',
    axisLine: { onZero: false, lineStyle: { color: '#000', width: 1.3 } },
    axisTick: { inside: true, length: 6, customValues: monthTicks, lineStyle: tickStyle },
    axisLabel: {
      show: i === 3, customValues: monthTicks, margin: 16,
      fontSize: 20, color: '#000', fontFamily: FONT,
      formatter: v => monthNames[monthTicks.indexOf(v)] || ''
    },
    splitLine: { show: true, lineStyle: { type: [1.5, 4], color: '#9a9a9a', width: 1 } }
  });
  xAxes.push({
    gridIndex: i, type: 'value', min: 0, max: 120, position: 'top',
    axisLine: { onZero: false, lineStyle: { color: '#000', width: 1.3 } },
    axisTick: { inside: true, length: 6, customValues: monthTicks, lineStyle: tickStyle },
    axisLabel: { show: false },
    splitLine: { show: false }
  });
  yAxes.push({
    gridIndex: i, type: 'value', min: -20, max: 20, interval: 10, position: 'left',
    axisLine: { onZero: false, lineStyle: { color: '#000', width: 1.3 } },
    axisTick: { inside: true, length: 6, lineStyle: tickStyle },
    axisLabel: { fontSize: 18, color: '#000', margin: 11, fontFamily: FONT },
    splitLine: { show: true, lineStyle: { type: [1.5, 4], color: '#9a9a9a', width: 1 } }
  });
  yAxes.push({
    gridIndex: i, type: 'value', min: -20, max: 20, interval: 10, position: 'right',
    axisLine: { onZero: false, lineStyle: { color: '#000', width: 1.3 } },
    axisTick: { inside: true, length: 6, lineStyle: tickStyle },
    axisLabel: { show: false },
    splitLine: { show: false }
  });

  const xIdx = 2 * i, yIdx = 2 * i;

  // observations, thick magenta, with the dash-dot zero reference line
  series.push({
    name: obsName, type: 'line', xAxisIndex: xIdx, yAxisIndex: yIdx,
    data: obsByYear[i], smooth: 0.5, showSymbol: false, symbol: 'none',
    lineStyle: { color: obsColor, width: 4 }, itemStyle: { color: obsColor },
    z: 2,
    markLine: {
      silent: true, symbol: ['none', 'none'], label: { show: false },
      lineStyle: { color: '#8a8a8a', type: [12, 4, 3, 4], width: 1.6 },
      data: [{ yAxis: 0 }], z: 1
    }
  });

  modelsByYear[i].forEach((d, k) => {
    const s = {
      name: modelNames[k], type: 'line', xAxisIndex: xIdx, yAxisIndex: yIdx,
      data: d, smooth: 0.5, showSymbol: false, symbol: 'none',
      lineStyle: { color: modelColors[k], width: 1.3 }, itemStyle: { color: modelColors[k] },
      z: 3 + k
    };
    if (k === 3) {
      // bracketed statistics for each model, one per month
      s.markPoint = {
        silent: true, symbol: 'circle', symbolSize: 0,
        data: statsByYear[i].map((st, m) => ({
          coord: [monthMids[m], -15.8],
          label: {
            show: true, position: 'inside',
            formatter: '{br|[}{v' + m + '|' + st[0] + '}{p| , }{v' + m + '|' + st[1] +
                       '}{p| , }{v' + m + '|' + st[2] + '}{br|]}',
            rich: {
              br: { color: '#000', fontSize: 21, fontWeight: 'bold', fontFamily: FONT },
              p: { color: '#000', fontSize: 21, fontFamily: FONT },
              ['v' + m]: { color: modelColors[m], fontSize: 21, fontFamily: FONT }
            }
          }
        }))
      };
    }
    series.push(s);
  });
});

const option = {
  animation: false,
  backgroundColor: '#fff',
  grid: grids,
  xAxis: xAxes,
  yAxis: yAxes,
  series: series,
  legend: {
    selectedMode: false, right: 34, top: 1, itemWidth: 0, itemHeight: 0, itemGap: 22,
    textStyle: { fontSize: 23, fontWeight: 'bold', fontFamily: FONT },
    data: modelNames.map((n, k) => ({ name: n, textStyle: { color: modelColors[k] } }))
      .concat([{ name: obsName, textStyle: { color: obsColor } }])
  },
  title: years.map((y, i) => ({
    text: y, right: 37, top: gridTops[i] + 1,
    textStyle: { fontSize: 24, fontWeight: 'bold', color: '#808080', fontFamily: FONT }
  })),
  graphic: [{
    type: 'text', x: 20, y: 345, rotation: Math.PI / 2,
    style: {
      text: '{m|Velocity (cm s}{sup|-1}{m|)}',
      fill: '#000', fontSize: 19, fontFamily: FONT,
      align: 'center', verticalAlign: 'middle',
      rich: {
        m: { fontSize: 19, fontFamily: FONT, fill: '#000', color: '#000' },
        sup: { fontSize: 12, verticalAlign: 'top', fontFamily: FONT, fill: '#000', color: '#000' }
      }
    }
  }]
};

const chart = echarts.init(document.getElementById('chart'), null, { renderer: 'canvas' });
chart.setOption(option);
</script>
</body>
</html>
